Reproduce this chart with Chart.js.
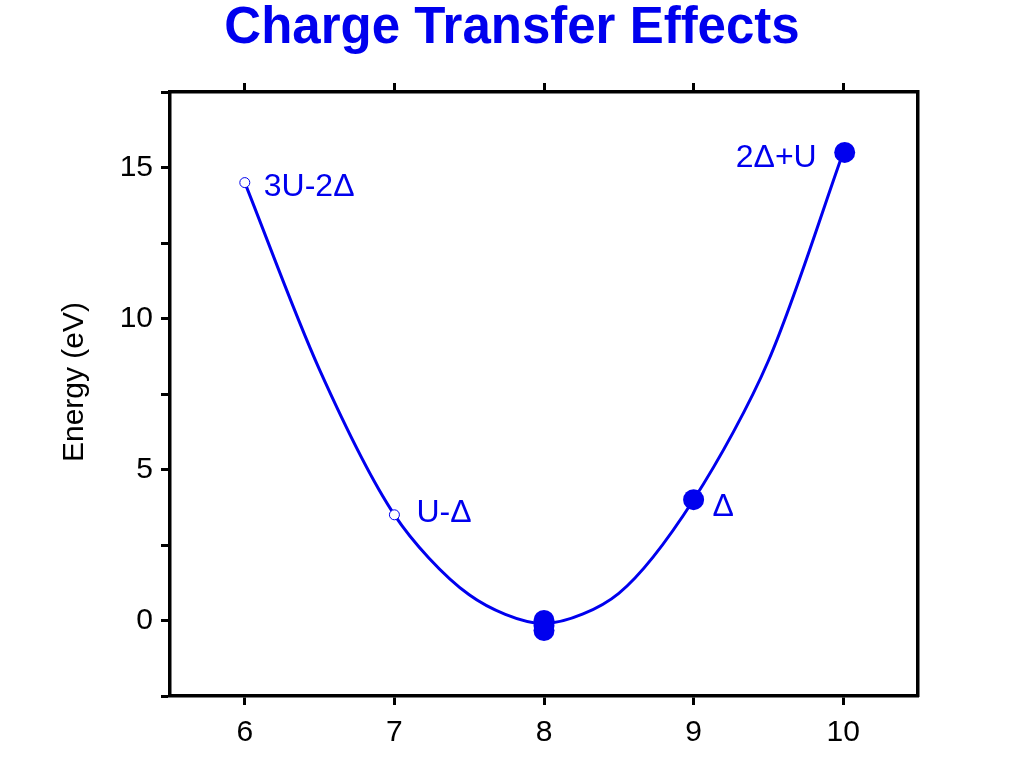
<!DOCTYPE html>
<html>
<head>
<meta charset="utf-8">
<title>Charge Transfer Effects</title>
<script src="https://cdn.jsdelivr.net/npm/chart.js@4.4.1/dist/chart.umd.min.js"></script>
<style>
    html, body { margin: 0; padding: 0; background: #fff; }
    #wrap { width: 1024px; height: 768px; }
</style>
</head>
<body>
<div id="wrap"><canvas id="chart"></canvas></div>
<script>
// curve every 0.5 along x
const curveX = [6, 6.5, 7, 7.5, 8, 8.5, 9, 9.5, 10];
const curveY = [14.5, 8.3, 3.5, 0.85, -0.1, 0.9, 4, 8.6, 15.5];

// open markers
const openX = [6, 7];
const openY = [14.5, 3.5];

// filled markers (several overlap at x = 8)
const filledX = [8, 8, 8, 9, 10.01];
const filledY = [0, -0.17, -0.33, 4, 15.5];

const xTicks = [6, 7, 8, 9, 10];

const labelText = ['3U-2\u0394', 'U-\u0394', '\u0394', '2\u0394+U'];
const labelX = [6, 7, 9, 10.01];
const labelY = [14.5, 3.5, 4, 15.5];

const titleText = 'Charge Transfer Effects';
const yTitle = 'Energy (eV)';

const blue = '#0000ee';
const font = "'Liberation Sans', Arial, sans-serif";

const toXY = (xs, ys) => xs.map((x, i) => ({ x: x, y: ys[i] }));
const fixTicks = s => { s.ticks = xTicks.map(v => ({ value: v })); };

const textPlugin = {
    id: 'texts',
    afterDraw(chart) {
        const ctx = chart.ctx;
        const xs = chart.scales.x, ys = chart.scales.y;
        ctx.save();

        ctx.fillStyle = blue;
        ctx.font = 'bold 51px ' + font;
        ctx.textAlign = 'center';
        ctx.textBaseline = 'alphabetic';
        ctx.fillText(titleText, 512, 43);

        ctx.fillStyle = '#000';
        ctx.font = '30px ' + font;
        ctx.translate(75, 382);
        ctx.rotate(-Math.PI / 2);
        ctx.textBaseline = 'middle';
        ctx.fillText(yTitle, 0, 0);
        ctx.setTransform(1, 0, 0, 1, 0, 0);

        // label offsets from their marker, in px
        const offs = [[19, 5, 'left'], [22, -2, 'left'], [19, 7, 'left'], [-28, 6, 'right']];
        ctx.fillStyle = blue;
        ctx.font = '32px ' + font;
        ctx.textBaseline = 'middle';
        labelText.forEach((t, i) => {
            const px = xs.getPixelForValue(labelX[i]);
            const py = ys.getPixelForValue(labelY[i]);
            ctx.textAlign = offs[i][2];
            ctx.fillText(t, px + offs[i][0], py + offs[i][1]);
        });
        ctx.restore();
    }
};

const axisBorder = { display: true, color: '#000', width: 3.5 };

new Chart(document.getElementById('chart'), {
    type: 'scatter',
    data: {
        datasets: [
            { data: toXY(curveX, curveY), showLine: true, borderColor: blue, borderWidth: 3, pointRadius: 0, tension: 0.3, order: 2 },
            { data: toXY(openX, openY), showLine: false, pointRadius: 5, pointBorderWidth: 1, pointBorderColor: blue, pointBackgroundColor: '#fff', order: 1 },
            { data: toXY(filledX, filledY), showLine: false, pointRadius: 10.5, pointBorderWidth: 0, pointBackgroundColor: blue, pointBorderColor: blue, order: 1 },
        ]
    },
    options: {
        responsive: true,
        maintainAspectRatio: false,
        animation: false,
        layout: { padding: 0 },
        plugins: {
            legend: { display: false },
            tooltip: { enabled: false },
            title: { display: false }
        },
        scales: {
            x: {
                type: 'linear', position: 'bottom', min: 5.5, max: 10.5,
                afterBuildTicks: fixTicks,
                ticks: { autoSkip: false, color: '#000', font: { family: font, size: 30 }, padding: 10, maxRotation: 0 },
                grid: { drawOnChartArea: false, drawTicks: true, tickLength: 9, tickWidth: 3, tickColor: '#000' },
                border: axisBorder,
                afterFit: s => { s.height = 72; }
            },
            x2: {
                type: 'linear', position: 'top', min: 5.5, max: 10.5,
                afterBuildTicks: fixTicks,
                ticks: { display: false },
                grid: { drawOnChartArea: false, drawTicks: true, tickLength: 9, tickWidth: 3, tickColor: '#000' },
                border: axisBorder,
                afterFit: s => { s.height = 92; }
            },
            y: {
                type: 'linear', position: 'left', min: -2.5, max: 17.5,
                ticks: {
                    stepSize: 2.5, includeBounds: false, color: '#000', font: { family: font, size: 30 }, padding: 8,
                    callback: v => (v % 5 === 0 ? String(v) : '')
                },
                grid: { drawOnChartArea: false, drawTicks: true, tickLength: 9, tickWidth: 3, tickColor: '#000' },
                border: axisBorder,
                afterFit: s => { s.width = 170; }
            },
            y2: {
                type: 'linear', position: 'right', min: -2.5, max: 17.5,
                ticks: { display: false },
                grid: { drawOnChartArea: false, drawTicks: false },
                border: axisBorder,
                afterFit: s => { s.width = 106; }
            }
        }
    },
    plugins: [textPlugin]
});
</script>
</body>
</html>
